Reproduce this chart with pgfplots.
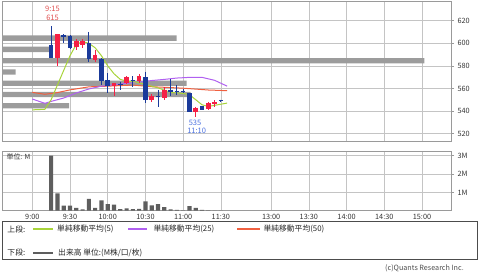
\documentclass[border=0pt]{standalone}
\usepackage{pgfplots}
\pgfplotsset{compat=1.18}
\usepackage{pgfplotstable}
\usepackage{fontspec}
\setmainfont{Noto Sans CJK JP}

\definecolor{cred}{HTML}{F52045}
\definecolor{cblue}{HTML}{1A3A9A}
\definecolor{mafive}{HTML}{A8D43A}
\definecolor{matwentyfive}{HTML}{B060F0}
\definecolor{mafifty}{HTML}{F06040}
\definecolor{gridc}{HTML}{C4C4C4}
\definecolor{framec}{HTML}{9A9A9A}
\definecolor{pvbar}{HTML}{9C9C9C}
\definecolor{volc}{HTML}{5E5E5E}
\definecolor{hilab}{HTML}{E05050}
\definecolor{lolab}{HTML}{4A70E0}

% up (red) candles: t open high low close
\pgfplotstableread{
t o h l c
20 587.2 608.2 580 608
35 597 603.5 594 602.3
40 598.5 603.5 596 602
50 585.5 594 583 590
65 562.5 565 553 564.5
75 565 571 564 570
85 567 572.5 564.5 571
95 549.5 555 548 553
105 551.5 561 550 559
130 539.5 543.5 535 543
140 541.5 548 540.5 547.5
145 546 549.5 543.5 548
}\upc

% down (blue) candles
\pgfplotstableread{
t o h l c
15 598.5 615 587 587.2
25 607.5 607.8 600 606
30 606.7 607 595 595.5
45 600 610.2 583.7 586
55 586 587 563 567
60 567.5 573.4 555.6 562.5
70 564 566 559 563
80 567.2 570.8 561 566.3
90 570 575 547 549.5
100 553 559 543.5 552
110 559 568 553 557
115 558 563 554 556.5
120 558 559.5 555.5 557
125 555.5 556 539 539.5
135 544 544.5 540.5 541
150 549.5 550 548 548.5
}\dnc

\pgfplotstableread{
t v
0 541
10 541.5
15 550
20 563
25 576
30 589
35 599
40 601.5
45 600
50 596
55 589
60 580
65 573
70 568
75 566.5
80 566
85 565
90 563.5
95 562
100 560.5
105 558.5
110 556.5
115 556
120 555.5
125 554.5
130 550
135 545.5
140 544
145 545
150 546
155 547
}\tabfive

\pgfplotstableread{
t v
0 550.6
10 546.8
15 548.5
25 551.5
35 556
45 559.5
55 562
65 563.3
75 564.5
85 565.5
95 567
105 568
115 569.2
125 569.8
135 569.8
145 567.2
155 562
}\tabtwentyfive

\pgfplotstableread{
t v
0 556.5
10 554.8
20 556.3
30 558.7
45 561.4
60 562
80 563
95 561.5
105 561
120 560.2
140 558.6
155 558
}\tabfifty

% volume at price (bar length, px-like units)
\pgfplotstableread{
p len
604.6 174.7
594.6 47.3
584.6 422.3
574.6 13.7
564.6 184.7
554.6 188.7
544.6 67
}\pvol

% volume per 5 minutes (M)
\pgfplotstableread{
t v
15 3.0
20 0.95
25 0.27
30 0.27
35 0.16
40 0.07
45 0.65
50 0.16
55 0.56
60 0.36
65 0.33
70 0.09
75 0.13
80 0.09
85 0.10
90 0.51
95 0.29
100 0.36
105 0.20
110 0.07
115 0.05
120 0.02
125 0.25
130 0.16
135 0.05
140 0.02
145 0.01
150 0.01
}\vol

\pgfplotsset{
  base/.style={scale only axis, width=449pt, anchor=south west,
    xmin=-24.1, xmax=333.1,
    tick label style={font=\fontsize{7.3}{8}\selectfont, text=black!80},
    /pgf/number format/assume math mode=true},
  frame/.style={base,
    axis line style={framec, line width=0.7pt},
    grid=major, grid style={gridc, line width=0.7pt},
    xtick={0,30,60,90,120,150,190,220,250,280,310},
    xtick style={draw=none},
    ytick pos=right, ytick align=outside, major tick length=3pt,
    ytick style={framec, line width=0.6pt}},
  upper/.style={at={(2pt,131pt)}, height=140pt, ymin=513.4, ymax=637.5},
  lower/.style={at={(2pt,61.3pt)}, height=59pt, ymin=0, ymax=3.22},
  wick/.style={draw=none, mark=none, forget plot,
    error bars/.cd, y dir=minus, y explicit, error mark=none,
    error bar style={draw=#1, line width=0.9pt}},
  body/.style={draw=none, mark=none, forget plot,
    error bars/.cd, y dir=minus, y explicit, error mark=none,
    error bar style={draw=#1, line width=4.5pt}},
}

\begin{document}
\begin{tikzpicture}
\useasboundingbox (0,0) rectangle (480pt,272pt);

% upper frame and grid
\begin{axis}[frame, upper, xticklabels={}, ytick={520,540,...,620}]
\end{axis}

% volume-at-price bars
\begin{axis}[upper, scale only axis, width=449pt, anchor=south west,
  xmin=0, xmax=449, hide axis]
\addplot[xbar, bar width=4.7, fill=pvbar, draw=none] table[x=len, y=p] {\pvol};
\end{axis}

% moving averages and candles
\begin{axis}[base, upper, hide axis]
\addplot[color=mafifty, line width=1pt, mark=none] table[x=t, y=v] {\tabfifty};
\addplot[color=matwentyfive, line width=1pt, mark=none] table[x=t, y=v] {\tabtwentyfive};
\addplot[color=mafive, line width=1pt, mark=none] table[x=t, y=v] {\tabfive};
\addplot[wick=cred] table[x=t, y=h, y error expr=\thisrow{h}-\thisrow{l}] {\upc};
\addplot[wick=cblue] table[x=t, y=h, y error expr=\thisrow{h}-\thisrow{l}] {\dnc};
\addplot[body=cred] table[x=t, y=c, y error expr=\thisrow{c}-\thisrow{o}] {\upc};
\addplot[body=cblue] table[x=t, y=o, y error expr=\thisrow{o}-\thisrow{c}] {\dnc};
\end{axis}

% lower: volume
\begin{axis}[frame, lower, ytick={1,2,3}, yticklabels={1M,2M,3M},
  xticklabels={9:00,9:30,10:00,10:30,11:00,11:30,13:00,13:30,14:00,14:30,15:00}]
\addplot[ybar, bar width=3.3, fill=volc, draw=none] table[x=t, y=v] {\vol};
\end{axis}

% annotations
\node[text=hilab, font=\fontsize{7.5}{8}\selectfont, inner sep=0] at (52.5pt,263.2pt) {9:15};
\node[text=hilab, font=\fontsize{7.5}{8}\selectfont, inner sep=0] at (52.5pt,254.1pt) {615};
\node[text=lolab, font=\fontsize{7.5}{8}\selectfont, inner sep=0] at (195pt,149.3pt) {535};
\node[text=lolab, font=\fontsize{7.5}{8}\selectfont, inner sep=0] at (196.7pt,141.2pt) {11:10};
\node[anchor=west, font=\fontsize{7}{8}\selectfont, inner sep=0, text=black!80] at (6.5pt,115.5pt) {単位: M};

% legend
\draw[black!70, line width=0.8pt] (2.7pt,12.7pt) rectangle (477.7pt,50.3pt);
\draw[draw=mafive, line width=1.8pt] (33pt,42.7pt) -- (53pt,42.7pt);
\draw[draw=matwentyfive, line width=1.8pt] (128.3pt,42.7pt) -- (147pt,42.7pt);
\draw[draw=mafifty, line width=1.8pt] (237.3pt,42.7pt) -- (260pt,42.7pt);
\draw[draw=volc, line width=1.8pt] (33pt,19.3pt) -- (53pt,19.3pt);
\begin{scope}[every node/.style={anchor=west, inner sep=0, font=\fontsize{7.8}{8}\selectfont, text=black!85}]
\node at (7.3pt,42.7pt) {上段:};
\node at (57pt,42.7pt) {単純移動平均(5)};
\node at (153.3pt,42.7pt) {単純移動平均(25)};
\node at (263.3pt,42.7pt) {単純移動平均(50)};
\node at (7.3pt,19.3pt) {下段:};
\node at (58pt,19.3pt) {出来高 単位:(M株/口/枚)};
\end{scope}
\node[anchor=east, inner sep=0, font=\fontsize{7.2}{8}\selectfont, text=black!70] at (464pt,3.8pt) {(c)Quants Research Inc.};
\end{tikzpicture}
\end{document}
